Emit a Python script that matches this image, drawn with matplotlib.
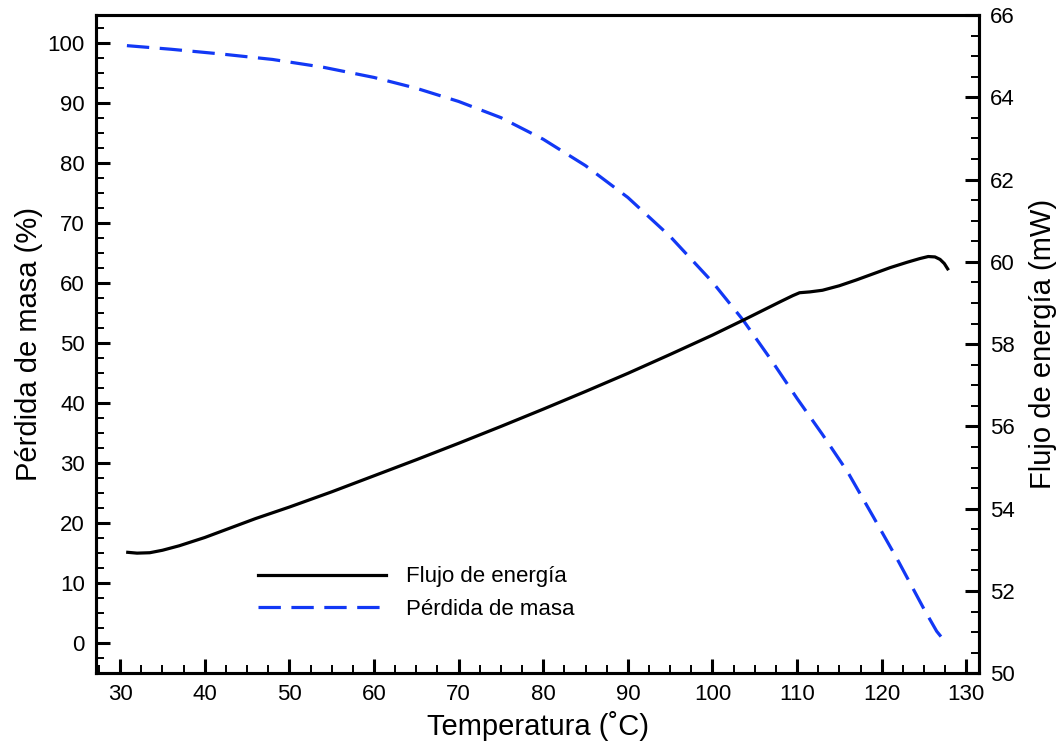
import matplotlib.pyplot as plt
from matplotlib.ticker import MultipleLocator
from matplotlib.lines import Line2D

plt.rcParams['font.family'] = ['Liberation Sans', 'DejaVu Sans']

# Flujo de energía (mW) vs temperatura
temp_flujo = [30.9, 32.0, 33.5, 35.0, 37.0, 40.0, 43.0, 46.0, 50.0, 55.0, 60.0,
              65.0, 70.0, 75.0, 80.0, 85.0, 90.0, 95.0, 100.0, 104.0, 108.0,
              109.5, 110.3, 111.5, 113.0, 115.0, 117.0, 119.0, 121.0, 123.0,
              124.5, 125.5, 126.3, 126.9, 127.4, 127.8]
flujo = [52.94, 52.92, 52.93, 52.99, 53.10, 53.30, 53.53, 53.76, 54.04, 54.41,
         54.80, 55.19, 55.59, 56.00, 56.42, 56.85, 57.29, 57.75, 58.22, 58.62,
         59.03, 59.18, 59.25, 59.27, 59.31, 59.42, 59.56, 59.71, 59.86, 59.99,
         60.08, 60.13, 60.12, 60.06, 59.96, 59.83]

# Pérdida de masa (%) vs temperatura
temp_masa = [30.8, 36.0, 42.0, 48.0, 54.0, 60.0, 65.0, 70.0, 75.0, 80.0, 85.0,
             90.0, 95.0, 100.0, 103.6, 107.0, 110.0, 113.0, 116.0, 119.0,
             122.0, 125.0, 126.5, 127.3, 127.8]
masa = [99.6, 99.0, 98.2, 97.3, 96.0, 94.3, 92.5, 90.3, 87.6, 84.0, 79.6,
        74.3, 67.8, 60.2, 53.9, 47.1, 40.8, 34.8, 28.5, 21.1, 13.6, 5.7, 2.0,
        0.6, 0.2]

azul = '#1238f5'

fig = plt.figure(figsize=(10.61, 7.52), dpi=100)
ax = fig.add_axes([0.0905, 0.1047, 0.8322, 0.8753])
ax2 = ax.twinx()

ax.plot(temp_masa, masa, color=azul, lw=2.3, dashes=(7, 3.3))
ax2.plot(temp_flujo, flujo, color='black', lw=2.3)

ax.set_xlim(27.15, 131.5)
ax.set_ylim(-5, 104.7)
ax2.set_ylim(50, 66)

ax.xaxis.set_major_locator(MultipleLocator(10))
ax.xaxis.set_minor_locator(MultipleLocator(2.5))
ax.yaxis.set_major_locator(MultipleLocator(10))
ax.yaxis.set_minor_locator(MultipleLocator(2.5))
ax2.yaxis.set_major_locator(MultipleLocator(2))
ax2.yaxis.set_minor_locator(MultipleLocator(0.5))

for a in (ax, ax2):
    for s in a.spines.values():
        s.set_linewidth(2.2)
    a.tick_params(which='major', direction='in', length=10, width=2.2,
                  labelsize=16, pad=8)
    a.tick_params(which='minor', direction='in', length=5.5, width=1.4)

ax.tick_params(axis='y', which='both', right=False)
ax.tick_params(axis='x', which='both', top=False)

ax.set_xlabel('Temperatura (˚C)', fontsize=21, labelpad=4)
ax.set_ylabel('Pérdida de masa (%)', fontsize=21, labelpad=3)
ax2.set_ylabel('Flujo de energía (mW)', fontsize=21, labelpad=10)

handles = [Line2D([], [], color='black', lw=2.3),
           Line2D([], [], color=azul, lw=2.3, dashes=(7, 3.3))]
ax2.legend(handles, ['Flujo de energía', 'Pérdida de masa'], frameon=False,
           loc='center left', bbox_to_anchor=(0.183, 0.122), fontsize=16,
           handlelength=5.8, handletextpad=0.9, borderpad=0, borderaxespad=0,
           labelspacing=0.5)

fig.savefig('out.png', dpi=100)
